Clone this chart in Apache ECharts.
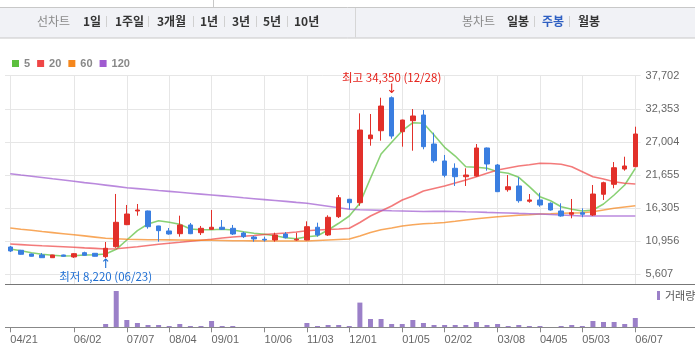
<!DOCTYPE html>
<html><head><meta charset="utf-8">
<script src="https://cdn.jsdelivr.net/npm/echarts@6/dist/echarts.min.js"></script>
<style>html,body{margin:0;padding:0;background:#fff}#c{width:695px;height:360px}</style>
</head><body><div id="c"></div>
<script>
// ---- data ----
const dates = ['04/21','04/28','05/05','05/12','05/19','05/26','06/02','06/09','06/16','06/23',
  '06/30','07/07','07/14','07/21','07/28','08/04','08/11','08/18','08/25','09/01',
  '09/08','09/15','09/22','09/29','10/06','10/13','10/20','10/27','11/03','11/10',
  '11/17','11/24','12/01','12/08','12/15','12/22','12/29','01/05','01/12','01/19',
  '01/26','02/02','02/09','02/16','02/23','03/01','03/08','03/15','03/22','03/29',
  '04/05','04/12','04/19','04/26','05/03','05/10','05/17','05/24','05/31','06/07'];
const labelDates = ['04/21','06/02','07/07','08/04','09/01','10/06','11/03','12/01','01/05','02/02','03/08','04/05','05/03','06/07'];
const openP = [10020,9490,8890,8730,8290,8730,8410,9100,9000,8460,
  10070,13630,15840,15840,13420,12610,12170,13580,12330,12880,
  13210,13040,12280,11640,11270,11150,12120,11150,11150,13210,
  11960,14920,17730,17180,27520,28810,34140,28650,30430,31350,
  26660,23920,22740,21380,21490,26020,23270,19280,19880,17410,
  17620,17080,15840,15310,15560,15190,18540,20150,22620,23000];
const closeP = [9380,8840,8520,8290,8730,8520,8940,8680,8520,9810,
  14010,15350,16000,13300,12660,12120,13580,12170,13040,13210,
  12880,12120,11690,11320,11150,11960,11530,11270,13300,11960,
  14820,17990,17180,28920,28120,32800,27950,30540,31190,26230,
  23960,21610,21380,21650,26020,23430,18960,19760,17500,17620,
  16810,16000,15030,15560,15310,18580,20410,22830,23110,28280];
const lowP = [9210,8780,8480,8250,8260,8480,8260,8620,8480,8220,
  9900,13550,15080,12980,10880,12010,11690,12100,11960,12770,
  12770,11960,11480,10880,10880,10880,11400,11040,11100,11690,
  11800,14710,16110,16690,26390,27200,27520,26230,25580,25810,
  23640,21280,19880,19880,21380,22350,18900,18960,17180,17180,
  16530,15900,14920,14660,14820,15030,17620,19510,22350,22900];
const highP = [10180,9550,8950,9050,8760,8780,9050,9260,9050,10830,
  18590,16810,16970,15900,13450,13090,15080,13900,13420,16000,
  14380,13580,12500,11850,11690,12330,12440,12330,14170,13950,
  15140,18420,17800,31620,31510,34140,34350,30600,32320,32160,
  28490,24890,23540,22740,26660,26100,23430,21650,21280,18580,
  18790,17240,17080,17780,16270,20040,20570,23750,24610,29460];
const ma5 = [9699,9424,9101,8843,8681,8568,8617,8730,8778,8891,
  9651,11153,12656,13738,14271,14013,13689,12930,12817,12817,
  12882,12769,12494,12235,12074,11848,11525,11363,11686,11848,
  12769,13851,15030,17082,21121,25046,26937,28811,30103,30006,
  28116,26129,24723,22995,22898,22736,22187,21929,21282,19764,
  18148,17502,16533,16113,15838,15999,16969,18423,20038,22736];
const ma20 = [10507,10410,10313,10216,10135,10055,9974,9877,9796,9699,
  9748,9909,10071,10265,10458,10620,10781,10943,11105,11266,
  11476,11638,11751,11880,12042,12171,12284,12445,12656,12769,
  12849,12930,13043,13980,15030,15838,16646,17615,18261,19069,
  19473,19877,20362,20846,21379,21929,22462,22785,23108,23318,
  23544,23512,23383,22995,22187,21379,21008,20571,20313,20200];
const ma60 = [13092,12898,12720,12526,12349,12171,11993,11815,11621,11428,
  11347,11266,11234,11202,11185,11169,11153,11137,11121,11105,
  11072,11040,11024,11008,10992,10992,10992,10992,10992,11072,
  11153,11234,11315,11799,12365,12801,13092,13415,13609,13770,
  13851,13980,14174,14384,14578,14756,14917,15030,15143,15240,
  15353,15402,15466,15515,15563,15725,15999,16274,16484,16694];
const ma120 = [21864,21654,21460,21250,21040,20846,20636,20426,20232,20022,
  19812,19602,19457,19312,19150,19004,18859,18714,18568,18423,
  18277,18132,17971,17825,17680,17534,17389,17227,17082,16840,
  16597,16355,16113,16048,15999,15935,15870,15838,15806,15757,
  15773,15789,15757,15709,15677,15612,15563,15515,15450,15402,
  15353,15273,15192,15111,15030,15030,15030,15030,15030,15030];
const volume = [10,10,10,10,10,10,10,10,10,330,
  3630,730,430,230,230,130,330,130,130,630,
  130,130,10,10,10,10,10,10,430,130,
  230,230,130,2470,830,830,330,330,730,430,
  230,230,230,230,530,230,330,130,230,130,
  130,10,130,230,130,630,530,530,330,930];
const yTickLabels = ['5,607','10,956','16,305','21,655','27,004','32,353','37,702'];
const yFirst = 5607, yLast = 37702, yAxisMin = 3991, volAxisMax = 4030;
const highText = '최고 34,350 (12/28)';
const lowText = '최저 8,220 (06/23)';
const maNames = ['5','20','60','120'];
const leftTabs = ['1일','1주일','3개월','1년','3년','5년','10년'];
const rightTabs = ['일봉','주봉','월봉'];

// ---- layout / style ----
const FONT = '"Liberation Sans","Noto Sans CJK KR",sans-serif';
const KFONT = '"Noto Sans CJK KR",sans-serif';
const G0 = {left:5, right:54.4, top:75.7, height:208.6};
const G1 = {left:5, right:54.4, top:287, height:40.3};
// label grid: spans exactly from first to last tick label value
const G2 = {left:5, right:54.4, top:75.7, height:208.6 * (yLast - yFirst) / (yLast - yAxisMin)};
const labelSet = new Set(labelDates);
const isLab = (i, v) => labelSet.has(dates[i]);
const ohlc = dates.map((d, i) => [openP[i], closeP[i], lowP[i], highP[i]]);
const hiIdx = highP.indexOf(Math.max(...highP));
const loIdx = lowP.indexOf(Math.min(...lowP));
const maColors = ['#5cbf3e','#ef4646','#f5871d','#a05bd0'];
const gridColor = '#e6e6e6';

const chart = echarts.init(document.getElementById('c'), null, {renderer:'canvas'});

const graphic = [];
graphic.push({type:'rect', z:-1, shape:{x:-1, y:7.5, width:697, height:30.5}, style:{fill:'#f1f2f6', stroke:'#c8c8c8', lineWidth:1}});
graphic.push({type:'line', shape:{x1:213.5, y1:0, x2:213.5, y2:7.5}, style:{stroke:'#c8c8c8'}});
graphic.push({type:'line', shape:{x1:355.5, y1:8, x2:355.5, y2:37.5}, style:{stroke:'#d6d6d6'}});
graphic.push({type:'text', style:{text:'선차트', x:37, y:21.5, font:'12px '+KFONT, fill:'#8a8a8a', verticalAlign:'middle'}});
const ltX = [83,115,157,200,232,263,294];
const lsX = [106.5,148.5,193.5,224.5,256.5,287.5];
leftTabs.forEach((t, i) => graphic.push({type:'text', style:{text:t, x:ltX[i], y:21.5, font:'bold 12px '+KFONT, fill:'#333', verticalAlign:'middle'}}));
lsX.forEach(x => graphic.push({type:'line', shape:{x1:x, y1:16, x2:x, y2:27}, style:{stroke:'#d0d0d0'}}));
graphic.push({type:'text', style:{text:'봉차트', x:462, y:21.5, font:'12px '+KFONT, fill:'#8a8a8a', verticalAlign:'middle'}});
const rtX = [507,542,578];
const rtC = ['#333','#2e5fc2','#333'];
rightTabs.forEach((t, i) => graphic.push({type:'text', style:{text:t, x:rtX[i], y:21.5, font:'bold 12px '+KFONT, fill:rtC[i], verticalAlign:'middle'}}));
[534.5,569.5].forEach(x => graphic.push({type:'line', shape:{x1:x, y1:16, x2:x, y2:27}, style:{stroke:'#d0d0d0'}}));
const ax0 = G0.top + G0.height, ax1 = G1.top + G1.height;
graphic.push({type:'line', z:10, shape:{x1:5, y1:Math.round(ax0)+0.5, x2:695, y2:Math.round(ax0)+0.5}, style:{stroke:'#777'}});
graphic.push({type:'line', z:10, shape:{x1:5, y1:Math.round(ax1)+0.5, x2:695, y2:Math.round(ax1)+0.5}, style:{stroke:'#888'}});

const maSeries = [ma5, ma20, ma60, ma120].map((d, i) => ({
  name: maNames[i], type:'line', xAxisIndex:0, yAxisIndex:0, data:d, color:maColors[i],
  showSymbol:false, symbol:'none', smooth:false, z:2,
  lineStyle:{width:1.6, opacity:0.72, color:maColors[i]}
}));

chart.setOption({
  animation:false,
  backgroundColor:'#fff',
  textStyle:{fontFamily:FONT},
  graphic: graphic,
  legend:[
    {data:maNames, left:12, top:58, padding:0, itemWidth:7, itemHeight:7, itemGap:7, icon:'rect',
     selectedMode:false, textStyle:{color:'#888', fontSize:11, fontWeight:'bold', fontFamily:FONT}},
    {data:['거래량'], left:657, top:290, padding:0, itemWidth:3, itemHeight:9, icon:'rect',
     selectedMode:false, textStyle:{color:'#555', fontSize:11, fontFamily:KFONT}}
  ],
  grid:[G0, G1, G2],
  xAxis:[
    {type:'category', gridIndex:0, data:dates, boundaryGap:true,
     axisLine:{show:false}, axisTick:{show:false}, axisLabel:{show:false},
     splitLine:{show:true, interval:isLab, alignWithLabel:true, lineStyle:{color:gridColor, width:1}}},
    {type:'category', gridIndex:1, data:dates, boundaryGap:true,
     axisLine:{show:false},
     axisTick:{show:true, interval:isLab, alignWithLabel:true, length:5, lineStyle:{color:'#888'}},
     axisLabel:{interval:isLab, align:'left', color:'#666', fontSize:11, margin:7, fontFamily:FONT},
     splitLine:{show:false}},
    {type:'category', gridIndex:2, data:dates, show:false}
  ],
  yAxis:[
    {type:'value', gridIndex:0, min:yAxisMin, max:yLast, show:false, splitLine:{show:false}},
    {type:'value', gridIndex:1, min:0, max:volAxisMax, show:false, splitLine:{show:false}},
    {type:'value', gridIndex:2, position:'right', min:0, max:yTickLabels.length-1, interval:1,
     axisLine:{show:false}, axisTick:{show:false},
     axisLabel:{margin:5, align:'left', color:'#666', fontSize:11, fontFamily:FONT,
       formatter:(v) => yTickLabels[Math.round(v)] || ''},
     splitLine:{show:true, lineStyle:{color:gridColor, width:1}}}
  ],
  series:[
    ...maSeries,
    {name:'price', type:'candlestick', xAxisIndex:0, yAxisIndex:0, data:ohlc, barWidth:5, z:5,
     itemStyle:{color:'#e2302a', color0:'#3a7ee0', borderColor:'#e2302a', borderColor0:'#3a7ee0', borderWidth:1},
     markPoint:{
       symbol:'circle', symbolSize:1, itemStyle:{color:'rgba(0,0,0,0)'},
       data:[
         {coord:[dates[hiIdx], highP[hiIdx]],
          label:{show:true, position:'top', distance:1,
            formatter:'{t|' + highText + '}\n{a|↓}',
            rich:{t:{color:'#e5231c', fontSize:11.5, lineHeight:13, fontFamily:KFONT, align:'center'},
                  a:{color:'#e5231c', fontSize:13, lineHeight:11, fontFamily:'"DejaVu Sans",sans-serif', align:'center'}}}},
         {coord:[dates[loIdx], lowP[loIdx]],
          label:{show:true, position:'bottom', distance:0,
            formatter:'{a|↑}\n{t|' + lowText + '}',
            rich:{t:{color:'#1f6fd3', fontSize:11.5, lineHeight:13, fontFamily:KFONT, align:'center'},
                  a:{color:'#1f6fd3', fontSize:13, lineHeight:11, fontFamily:'"DejaVu Sans",sans-serif', align:'center'}}}}
       ]
     }},
    {name:'거래량', type:'bar', xAxisIndex:1, yAxisIndex:1, data:volume, barWidth:5,
     color:'#9b80c8', itemStyle:{color:'#9b80c8'}}
  ]
});
</script></body></html>
